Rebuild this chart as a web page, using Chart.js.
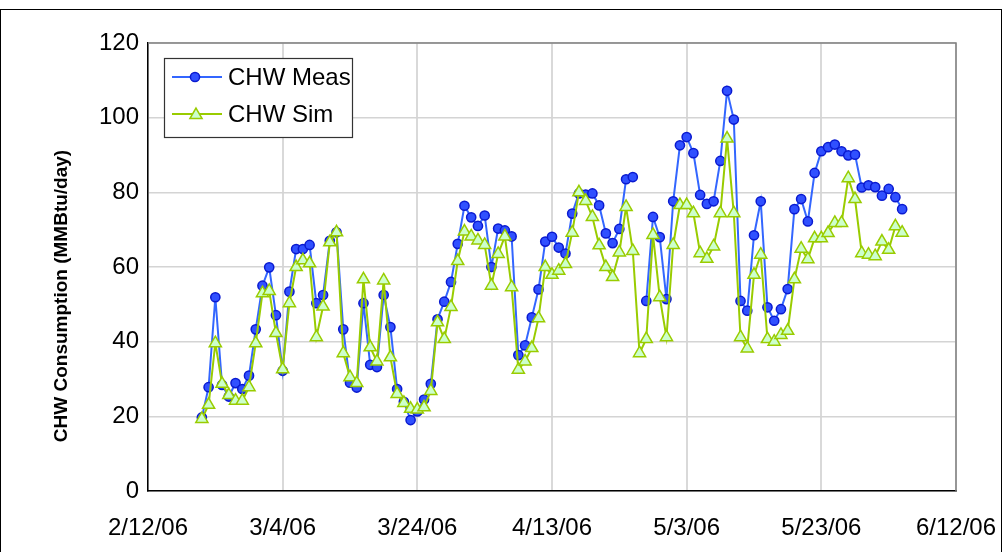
<!DOCTYPE html>
<html>
<head>
<meta charset="utf-8">
<script src="https://cdn.jsdelivr.net/npm/chart.js@4.4.1/dist/chart.umd.min.js"></script>
<style>
html,body{margin:0;padding:0;background:#fff;}
#wrap{position:relative;width:1005px;height:552px;overflow:hidden;}
#frame{position:absolute;left:0;top:9px;width:1002px;height:560px;border:1.5px solid #000;box-sizing:border-box;}
canvas{position:absolute;left:0;top:0;}
</style>
</head>
<body>
<div id="wrap"><div id="frame"></div><canvas id="c" width="1005" height="552"></canvas></div>
<script>
const categories = [
"2/20/06","2/21/06","2/22/06","2/23/06","2/24/06","2/25/06","2/26/06","2/27/06","2/28/06",
"3/1/06","3/2/06","3/3/06","3/4/06","3/5/06","3/6/06","3/7/06","3/8/06","3/9/06","3/10/06",
"3/11/06","3/12/06","3/13/06","3/14/06","3/15/06","3/16/06","3/17/06","3/18/06","3/19/06","3/20/06",
"3/21/06","3/22/06","3/23/06","3/24/06","3/25/06","3/26/06","3/27/06","3/28/06","3/29/06","3/30/06","3/31/06",
"4/1/06","4/2/06","4/3/06","4/4/06","4/5/06","4/6/06","4/7/06","4/8/06","4/9/06","4/10/06",
"4/11/06","4/12/06","4/13/06","4/14/06","4/15/06","4/16/06","4/17/06","4/18/06","4/19/06","4/20/06",
"4/21/06","4/22/06","4/23/06","4/24/06","4/25/06","4/26/06","4/27/06","4/28/06","4/29/06","4/30/06",
"5/1/06","5/2/06","5/3/06","5/4/06","5/5/06","5/6/06","5/7/06","5/8/06","5/9/06","5/10/06",
"5/11/06","5/12/06","5/13/06","5/14/06","5/15/06","5/16/06","5/17/06","5/18/06","5/19/06","5/20/06",
"5/21/06","5/22/06","5/23/06","5/24/06","5/25/06","5/26/06","5/27/06","5/28/06","5/29/06","5/30/06","5/31/06",
"6/1/06","6/2/06","6/3/06","6/4/06"
];
const chwMeas = [
19.7,27.8,51.9,28.4,25.3,28.9,27.3,30.9,43.3,
55.0,59.9,47.1,32.2,53.4,64.8,64.8,65.9,50.3,52.5,
67.0,69.3,43.3,29.0,27.7,50.3,33.8,33.2,52.5,43.9,
27.3,23.9,19.0,21.3,24.5,28.7,46.0,50.7,56.0,66.2,76.4,
73.3,71.0,73.8,60.0,70.3,69.8,68.2,36.4,39.0,46.5,
54.0,66.8,68.1,65.2,63.6,74.3,79.7,79.4,79.7,76.5,
69.0,66.4,70.2,83.5,84.1,null,50.9,73.4,68.0,51.4,
77.6,92.6,94.8,90.5,79.3,76.9,77.6,88.4,107.2,99.5,
50.9,48.3,68.5,77.6,49.2,45.6,48.7,54.1,75.5,78.2,
72.2,85.2,91.0,92.1,92.8,91.0,89.9,90.1,81.3,81.9,81.4,
79.1,80.9,78.7,75.5
];
const chwSim = [
19.3,23.1,39.6,28.7,25.7,24.2,24.2,27.8,39.6,
53.0,53.6,42.3,32.6,50.3,60.0,61.8,61.0,41.2,49.4,
66.6,69.3,36.9,30.5,28.9,56.7,38.5,34.7,56.4,35.8,
26.0,23.6,22.0,21.8,22.4,26.8,45.2,40.7,49.3,61.6,69.5,
68.2,67.1,65.9,55.0,63.5,68.2,54.6,32.5,34.7,38.3,
46.3,60.0,57.9,59.0,60.8,69.2,80.0,77.7,73.4,65.8,
60.0,57.3,63.9,76.1,64.3,36.9,40.7,68.6,51.9,41.2,
65.9,76.6,76.6,74.4,63.7,62.2,65.5,74.4,94.4,74.4,
41.2,38.2,57.9,63.3,40.7,40.0,41.8,42.9,56.7,64.9,
62.1,67.7,67.7,69.1,71.8,71.8,83.8,78.2,63.7,63.3,62.9,
66.8,64.6,70.9,69.2
];
const xTickLabels = ["2/12/06","3/4/06","3/24/06","4/13/06","5/3/06","5/23/06","6/12/06"];
const yTickValues = [0,20,40,60,80,100,120];
const seriesNames = ["CHW Meas","CHW Sim"];
const yTitle = "CHW Consumption (MMBtu/day)";

const FONT = "'Liberation Sans', Arial, sans-serif";
const origin = Date.UTC(2006,1,12);
function dayOf(s){const p=s.split('/');return (Date.UTC(2000+(+p[2]),p[0]-1,+p[1])-origin)/86400000;}
const xs = categories.map(dayOf);
const measPts = xs.map((x,i)=>({x:x,y:chwMeas[i]}));
const simPts = xs.map((x,i)=>({x:x,y:chwSim[i]}));

const MEAS = {line:'#3366ff', fill:'#3050ff', border:'#0a1ad0'};
const SIM = {line:'#99cc00', fill:'#ccffcc', border:'#99cc00'};

function drawCircle(ctx,x,y){ctx.beginPath();ctx.arc(x,y,4.6,0,Math.PI*2);ctx.fillStyle=MEAS.fill;ctx.fill();ctx.lineWidth=1.5;ctx.strokeStyle=MEAS.border;ctx.stroke();}
function drawTri(ctx,x,y){const r=7;ctx.beginPath();for(let k=0;k<3;k++){const a=k*2*Math.PI/3;const px=x+Math.sin(a)*r,py=y-Math.cos(a)*r;k?ctx.lineTo(px,py):ctx.moveTo(px,py);}ctx.closePath();ctx.fillStyle=SIM.fill;ctx.fill();ctx.lineWidth=1.5;ctx.strokeStyle=SIM.border;ctx.stroke();}

const decor = {
  id:'decor',
  beforeDatasetsDraw(chart){
    const {ctx, chartArea:a} = chart;
    ctx.save();
    ctx.strokeStyle='#808080';ctx.lineWidth=1.5;
    ctx.beginPath();ctx.moveTo(a.left,a.top);ctx.lineTo(a.right,a.top);ctx.lineTo(a.right,a.bottom);ctx.stroke();
    ctx.restore();
  },
  afterDraw(chart){
    const ctx = chart.ctx;
    ctx.save();
    ctx.translate(62,296);ctx.rotate(-Math.PI/2);
    ctx.font="bold 19px "+FONT;ctx.fillStyle='#000';ctx.textAlign='center';ctx.textBaseline='middle';
    ctx.fillText(yTitle,0,0);
    ctx.restore();
    ctx.save();
    ctx.fillStyle='#fff';ctx.fillRect(164,58,188,79);
    ctx.strokeStyle='#333';ctx.lineWidth=1.2;ctx.strokeRect(164.5,58.5,188,79);
    const rows=[77,114];
    ctx.lineWidth=2;
    ctx.strokeStyle=MEAS.line;ctx.beginPath();ctx.moveTo(172,rows[0]);ctx.lineTo(222,rows[0]);ctx.stroke();
    drawCircle(ctx,195,rows[0]);
    ctx.lineWidth=2;
    ctx.strokeStyle=SIM.line;ctx.beginPath();ctx.moveTo(172,rows[1]);ctx.lineTo(222,rows[1]);ctx.stroke();
    drawTri(ctx,196,rows[1]+1);
    ctx.font="24px "+FONT;ctx.fillStyle='#000';ctx.textAlign='left';ctx.textBaseline='middle';
    ctx.fillText(seriesNames[0],228,rows[0]+1);
    ctx.fillText(seriesNames[1],228,rows[1]+1);
    ctx.restore();
  }
};

new Chart(document.getElementById('c'),{
  type:'line',
  data:{datasets:[
    {label:seriesNames[0],data:measPts,borderColor:MEAS.line,borderWidth:2,pointStyle:'circle',pointRadius:4.6,pointBorderWidth:1.5,pointBackgroundColor:MEAS.fill,pointBorderColor:MEAS.border,spanGaps:false,tension:0,order:2},
    {label:seriesNames[1],data:simPts,borderColor:SIM.line,borderWidth:2,pointStyle:'triangle',pointRadius:7,pointBorderWidth:1.5,pointBackgroundColor:SIM.fill,pointBorderColor:SIM.border,spanGaps:false,tension:0,order:1}
  ]},
  options:{
    responsive:false,animation:false,
    layout:{padding:{top:43,right:49,left:0,bottom:0}},
    plugins:{legend:{display:false},tooltip:{enabled:false}},
    scales:{
      x:{type:'linear',min:0,max:120,
        afterBuildTicks(s){s.ticks=xTickLabels.map((l,i)=>({value:i*20}));},
        afterFit(s){s.height=61;s.paddingLeft=0;s.paddingRight=0;},
        ticks:{callback:(v)=>xTickLabels[Math.round(v/20)],font:{family:FONT,size:24},color:'#000',padding:23,maxRotation:0,autoSkip:false},
        grid:{color:'#d9d9d9',lineWidth:2,drawTicks:false},
        border:{display:true,color:'#000',width:1.5}
      },
      y:{min:0,max:120,
        afterBuildTicks(s){s.ticks=yTickValues.map(v=>({value:v}));},
        afterFit(s){s.width=148;s.paddingTop=0;s.paddingBottom=0;},
        ticks:{font:{family:FONT,size:24},color:'#000',padding:9},
        grid:{color:'#d4d4d4',lineWidth:1.5,drawTicks:false},
        border:{display:true,color:'#000',width:1.5}
      }
    }
  },
  plugins:[decor]
});
</script>
</body>
</html>
